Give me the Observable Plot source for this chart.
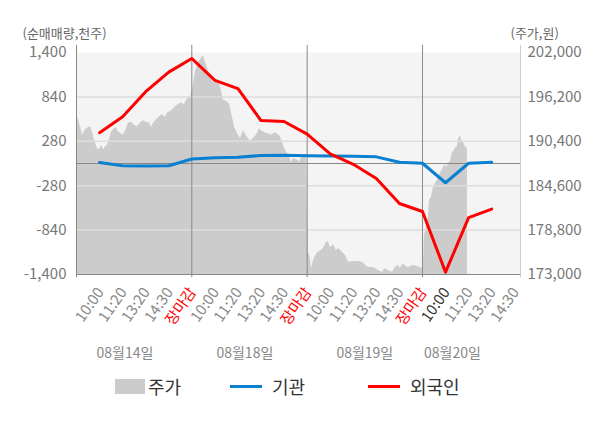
<!DOCTYPE html>
<html><head><meta charset="utf-8">
<script src="https://cdn.jsdelivr.net/npm/d3@7"></script>
<script src="https://cdn.jsdelivr.net/npm/@observablehq/plot@0.6"></script>
<style>
body{margin:0;background:#fff;font-family:"Noto Sans CJK KR","Noto Sans",sans-serif;}
#wrap{position:relative;width:600px;height:428px;overflow:hidden;}
.leg{position:absolute;top:373px;height:26px;display:flex;align-items:center;font-size:18px;color:#333;white-space:nowrap;}
.sw{display:inline-block;margin-right:4px;}
</style></head><body><div id="wrap"></div>
<script>
// x tick labels (slots 1..19)
const tickLabels = ["10:00","11:20","13:20","14:30","장마감",
  "10:00","11:20","13:20","14:30","장마감",
  "10:00","11:20","13:20","14:30","장마감",
  "10:00","11:20","13:20","14:30"];
const dateLabels = ["08월14일","08월18일","08월19일","08월20일"];
const leftTicks = [-1400,-840,-280,280,840,1400];
const priceMin = 173000, priceMax = 202000;

// net buying (천주) at slots 1..18
const foreignNet = [388,589,906,1153,1324,1048,944,542,529,370,120,-10,-188,-504,-605,-1371,-682,-576];
const instNet = [12,-28,-32,-28,57,73,79,101,104,99,95,90,84,15,3,-243,3,15];

// intraday stock price (원)
const priceSlot = [0.00,0.09,0.17,0.26,0.39,0.52,0.61,0.69,0.78,0.87,0.95,1.04,1.08,1.17,1.26,1.34,1.43,1.52,1.60,1.73,1.82,1.91,1.99,2.08,2.17,2.25,2.38,2.51,2.64,2.77,2.90,3.03,3.16,3.25,3.34,3.47,3.60,3.73,3.86,3.94,4.07,4.16,4.29,4.42,4.55,4.68,4.77,4.85,4.94,
5.03,5.16,5.29,5.42,5.50,5.64,5.77,5.90,6.07,6.16,6.24,6.37,6.50,6.63,6.72,6.85,6.98,7.11,7.24,7.37,7.54,7.67,7.80,7.93,8.06,8.19,8.32,8.45,8.58,8.71,8.84,8.97,9.10,9.23,9.32,9.41,9.54,9.67,9.75,9.84,9.93,9.97,
10.01,10.06,10.14,10.19,10.27,10.36,10.45,10.58,10.71,10.84,10.92,11.01,11.14,11.27,11.36,11.53,11.66,11.79,12.01,12.22,12.40,12.53,12.66,12.83,12.96,13.09,13.26,13.39,13.52,13.70,13.83,13.96,14.04,14.17,14.35,14.48,14.61,14.78,14.91,15.00,
15.04,15.08,15.17,15.26,15.30,15.39,15.47,15.56,15.65,15.69,15.78,15.86,15.91,15.99,16.08,16.12,16.21,16.30,16.34,16.43,16.51,16.56,16.64,16.73,16.77,16.86,16.95];
const priceWon = [193900,193200,192300,191200,191900,192200,192300,191600,190600,189700,189300,189500,189900,189300,189700,189900,190600,191600,191900,192200,191600,191500,191200,191500,192000,192800,192900,192500,192300,192800,193100,192900,192800,192200,192800,193200,193600,193900,193500,194100,194300,194500,194900,195200,195400,195200,195800,196100,196200,
197100,199500,200600,201300,201600,200300,199200,198100,198200,198500,197500,195800,195600,195300,194100,192300,191400,190800,191800,191100,190400,190800,191200,192000,191700,191500,191400,191200,191500,191400,191000,189900,189000,188500,187600,188200,188000,187700,188200,188600,188300,188000,
180700,175900,175100,173800,174800,175400,175800,176100,176400,177200,177300,176500,176900,176100,176400,175900,175500,174600,174700,174700,174600,174200,173900,173900,173800,173500,173300,173800,173500,173300,173900,174200,173800,174400,173900,174000,174200,174000,173900,173800,
174000,177900,179200,180500,182700,183100,184300,184900,185300,185700,186300,186600,187000,187300,187000,187600,187700,188900,189000,189500,189700,190600,191200,190200,190300,189700,189500];

const priceMid = (priceMin + priceMax) / 2;
const toLeft = p => (p - priceMid) * 2800 / (priceMax - priceMin);
const toPrice = v => priceMid + v * (priceMax - priceMin) / 2800;
const fmt = d3.format(",");
const fmtSigned = d => (d < 0 ? "-" : "") + fmt(Math.abs(d));

const priceRows = priceSlot.map((s, i) => ({slot: s, v: toLeft(priceWon[i])}));
const netRows = foreignNet.map((f, i) => ({slot: i + 1, foreign: f, inst: instNet[i]}));
const tickRows = tickLabels.map((t, i) => ({slot: i + 1, label: t, idx: i}));
const dayBounds = [0, 5, 10, 15];
const xEnd = 19.25;
const currentIdx = 15;

const chart = Plot.plot({
  width: 600, height: 428,
  marginLeft: 76, marginRight: 80, marginTop: 52, marginBottom: 154,
  x: {domain: [0, xEnd], axis: null},
  y: {domain: [-1400, 1400], axis: null},
  style: {fontFamily: '"Noto Sans CJK KR","Noto Sans",sans-serif', background: "transparent", overflow: "visible"},
  marks: [
    Plot.frame({fill: "#f4f4f4", stroke: null}),
    Plot.areaY(priceRows, {x: "slot", y1: -1400, y2: "v", fill: "#cccccc"}),
    Plot.ruleY([-840, -280, 280, 840], {stroke: "#dddddd", strokeWidth: 1.5}),
    Plot.ruleY([0], {stroke: "#888"}),
    Plot.ruleY([-1400], {stroke: "#888"}),
    Plot.ruleX(dayBounds, {y1: -1440, y2: 1490, stroke: "#888"}),
    Plot.ruleX([xEnd], {y1: -1440, y2: 1490, stroke: "#cccccc"}),
    Plot.line(netRows, {x: "slot", y: "inst", stroke: "#0a80d0", strokeWidth: 3}),
    Plot.line(netRows, {x: "slot", y: "foreign", stroke: "#ff0000", strokeWidth: 3}),
    Plot.axisY(leftTicks, {anchor: "left", tickSize: 0, tickPadding: 10, tickFormat: fmtSigned, fontSize: 15, fill: "#777"}),
    Plot.axisY(leftTicks, {anchor: "right", tickSize: 0, tickPadding: 7, tickFormat: d => fmt(Math.round(toPrice(d))), fontSize: 15, fill: "#777"}),
    Plot.text(tickRows, {x: "slot", y: -1400, text: "label", rotate: -55, textAnchor: "end", lineAnchor: "middle", dx: 1, dy: 15, fontSize: 15,
      fill: d => d.label === "장마감" ? "#ff0000" : (d.idx === currentIdx ? "#333" : "#888")}),
    Plot.text(dateLabels, {x: [2.1, 7.3, 12.5, 16.3], y: -1400, text: d => d, dy: 79, fontSize: 14, fill: "#888"}),
    Plot.text(["(순매매량,천주)"], {frameAnchor: "top-left", text: d => d, textAnchor: "start", lineAnchor: "middle", dx: -54, dy: -19, fontSize: 13, fill: "#666"}),
    Plot.text(["(주가,원)"], {frameAnchor: "top-right", text: d => d, textAnchor: "start", lineAnchor: "middle", dx: -10, dy: -19, fontSize: 13, fill: "#666"})
  ]
});
const wrap = document.getElementById("wrap");
wrap.appendChild(chart);

const legendItems = [
  {label: "주가", left: 115, sw: '<span class="sw" style="width:30px;height:15px;background:#cccccc;margin-right:3px"></span>'},
  {label: "기관", left: 230, sw: '<span class="sw" style="width:32px;height:3px;background:#0a80d0;margin-right:10px"></span>'},
  {label: "외국인", left: 368, sw: '<span class="sw" style="width:32px;height:3px;background:#ff0000;margin-right:10px"></span>'}
];
for (const it of legendItems) {
  const d = document.createElement("div");
  d.className = "leg";
  d.style.left = it.left + "px";
  d.innerHTML = it.sw + "<span>" + it.label + "</span>";
  wrap.appendChild(d);
}
</script></body></html>
